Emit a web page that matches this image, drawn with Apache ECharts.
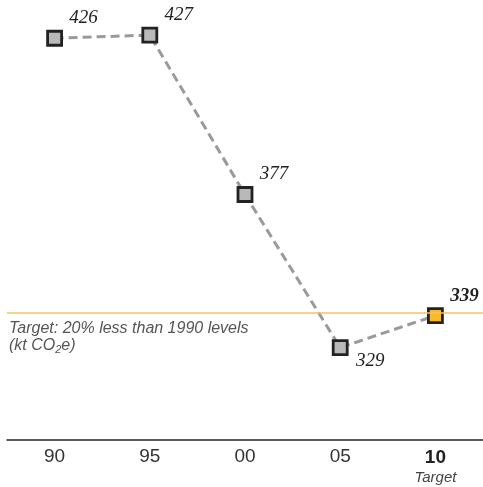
<!DOCTYPE html>
<html><head><meta charset="utf-8">
<script src="https://cdn.jsdelivr.net/npm/echarts@6/dist/echarts.min.js"></script>
<style>html,body{margin:0;padding:0;background:#fff}#c{width:483px;height:487px}</style>
</head><body><div id="c"></div>
<script>
const categories = ['90', '95', '00', '05', '10'];
const values = [426, 427, 377, 329, 339];
const targetValue = 340;
const targetIndex = 4;

const chart = echarts.init(document.getElementById('c'));
const data = values.map((v, i) => {
  const isT = i === targetIndex;
  return {
    value: v,
    itemStyle: { color: isT ? '#f8b92c' : '#b9b9b9', borderColor: '#222', borderWidth: 2.8 },
    label: {
      offset: i === 3 ? [30, 13] : [29, -20],
      fontWeight: isT ? 'bold' : 'normal'
    }
  };
});
chart.setOption({
  animation: false,
  grid: { left: 7, right: 0, top: 0, bottom: 47 },
  xAxis: {
    type: 'category', data: categories, boundaryGap: true,
    axisLine: { lineStyle: { color: '#222', width: 1.5 } },
    axisTick: { show: false },
    axisLabel: {
      interval: 0, hideOverlap: false,
      margin: 7, color: '#333', fontFamily: 'Liberation Sans', fontSize: 19,
      formatter: (v, i) => i === targetIndex ? '{b|' + v + '}\n{t|Target}' : v,
      rich: {
        b: { fontWeight: 'bold', fontSize: 19, color: '#222', fontFamily: 'Liberation Sans', lineHeight: 21 },
        t: { fontStyle: 'italic', fontSize: 15, color: '#444', fontFamily: 'Liberation Sans', lineHeight: 20 }
      }
    }
  },
  yAxis: { type: 'value', min: 300, max: 438, show: false, splitLine: { show: false } },
  series: [{
    type: 'line', data: data,
    symbol: 'rect', symbolSize: 14,
    lineStyle: { color: '#9a9a9a', width: 3, type: [9, 5] },
    label: {
      show: true, position: 'inside', color: '#222',
      fontFamily: 'Liberation Serif', fontStyle: 'italic', fontSize: 19
    },
    z: 3,
    markLine: {
      silent: true, symbol: 'none',
      lineStyle: { color: '#f5c262', width: 1.5, type: 'solid' },
      data: [{ yAxis: targetValue }],
      label: {
        show: true, position: 'insideStartBottom', distance: [2, 8],
        formatter: '{a|Target: 20% less than 1990 levels}\n{a|(kt CO}{s|2}{a|e)}',
        rich: {
          a: { fontStyle: 'italic', fontSize: 16, color: '#555', fontFamily: 'Liberation Sans', lineHeight: 17 },
          s: { fontStyle: 'italic', fontSize: 11, color: '#555', fontFamily: 'Liberation Sans', padding: [7, 0, 0, 0], lineHeight: 17 }
        }
      }
    }
  }]
});
</script></body></html>
